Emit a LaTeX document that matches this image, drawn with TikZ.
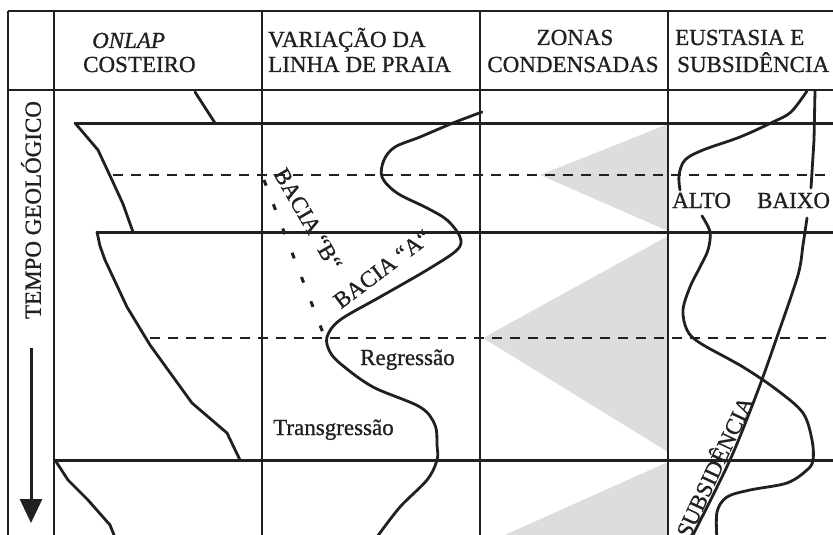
\documentclass[tikz,border=0pt]{standalone}
\usepackage{fontspec}
\setmainfont{Liberation Serif}[FakeBold=0.9]
\usetikzlibrary{arrows.meta}
\definecolor{ink}{HTML}{231F20}
\definecolor{zonegray}{HTML}{DCDDDF}
\begin{document}
\begin{tikzpicture}[x=1pt,y=-1pt,
    grid/.style={ink,line width=1.2pt},
    limit/.style={ink,line width=3pt},
    half/.style={ink,line width=1.5pt,dash pattern=on 10pt off 8pt},
    curve/.style={ink,line width=2.8pt,line join=round,line cap=round},
    lbl/.style={font=\fontsize{23}{26}\selectfont,text=ink,inner sep=0pt}]
  \clip (0,0) rectangle (833,535);
  % zonas condensadas
  \fill[zonegray] (540,175) -- (668,124) -- (668,231) -- cycle;
  \fill[zonegray] (483,338) -- (668,236) -- (668,452) -- cycle;
  \fill[zonegray] (668,462) -- (480,546) -- (668,640) -- cycle;
  % quadro
  \draw[grid] (8,11) -- (840,11);
  \draw[grid] (8,90) -- (840,90);
  \foreach \x in {8,54,262,480,668}
    \draw[grid] (\x,11) -- (\x,540);
  \draw[half] (113,175) -- (840,175);
  \draw[half] (150,338) -- (840,338);
  \draw[limit] (75,123) -- (840,123);
  \draw[limit] (97,232) -- (840,232);
  \draw[limit] (55,460) -- (840,460);
  % onlap costeiro
  \draw[curve] (195,92) -- (215,123);
  \draw[curve] (75,123) -- (98,150) -- (112,180) -- (123,204) -- (133,232);
  \draw[curve] (97,232) -- (100,246) -- (105,260) -- (127,307) -- (150,345)
    -- (192,403) -- (227,433) -- (240,460);
  \draw[curve] (55,460) -- (68,480) -- (88,500) -- (110,525) -- (116,540);
  % linha de praia
  \draw[curve] plot[smooth,tension=0.55] coordinates {(482,112) (453,123)
    (420,137) (395,147) (384,160) (382,177) (397,193) (427,208) (447,220)
    (460,237) (457,250) (427,270) (380,297) (340,320) (327,337) (330,352)
    (342,365) (373,387) (420,407) (435,425) (437,445) (437,460) (427,480)
    (400,507) (377,537)};
  \draw[ink,line width=3pt,dash pattern=on 6pt off 20pt] (264,180) -- (325,338);
  % eustasia e subsidencia
  \draw[curve] plot[smooth,tension=0.55] coordinates {(807,91) (791,112)
    (773,122) (740,137) (703,150) (685,160) (679,175) (680,190)};
  \draw[curve] plot[smooth,tension=0.55] coordinates {(702,216) (710,232)
    (708,250) (700,267) (690,287) (683,310) (687,330) (700,343) (743,367)
    (777,390) (803,413) (812,440) (813,460) (807,470) (787,483) (750,490)
    (727,497) (717,512) (717,540)};
  \draw[curve] (815,91) -- (814,140) -- (811,188);
  \draw[curve] plot[smooth,tension=0.5] coordinates {(807,218) (803,245)
    (798,275) (777,337) (757,393) (730,460) (693,535) (690,541)};
  % textos
  \node[lbl,anchor=base west] (onlap) at (92,48) {\textit{ONLAP}};
  \node[lbl,anchor=base west] (costeiro) at (83,72) {COSTEIRO};
  \node[lbl,anchor=base west] (variacao) at (268,47) {VARIAÇÃO DA};
  \node[lbl,anchor=base west] (linha) at (268,72) {LINHA DE PRAIA};
  \node[lbl,anchor=base] (zonas) at (575,45) {ZONAS};
  \node[lbl,anchor=base] (condensadas) at (573,72) {CONDENSADAS};
  \node[lbl,anchor=base west] (eustasia) at (675,45) {EUSTASIA E};
  \node[lbl,anchor=base west] (subsid) at (677,72) {SUBSIDÊNCIA};
  \node[lbl,rotate=90] (tempo) at (31,210) {TEMPO GEOLÓGICO};
  \node[lbl,anchor=base west] (regressao) at (360,365) {Regressão};
  \node[lbl,anchor=base west] (transgressao) at (273,435) {Transgressão};
  \node[lbl,anchor=base west] (alto) at (672,208) {ALTO};
  \node[lbl,anchor=base west] (baixo) at (757,208) {BAIXO};
  \node[lbl,rotate=-60] (baciab) at (308,219) {BACIA “B“};
  \node[lbl,rotate=37] (baciaa) at (382,269) {BACIA “A“};
  \node[lbl,rotate=65] (subsidencia) at (713,466) {SUBSIDÊNCIA};
  % seta do tempo
  \coordinate (tt) at (31,348);
  \coordinate (tb) at (31,523);
  \draw[ink,line width=3pt,-{Triangle[width=22pt,length=24pt]}] (tt) -- (tb);
\end{tikzpicture}
\end{document}
